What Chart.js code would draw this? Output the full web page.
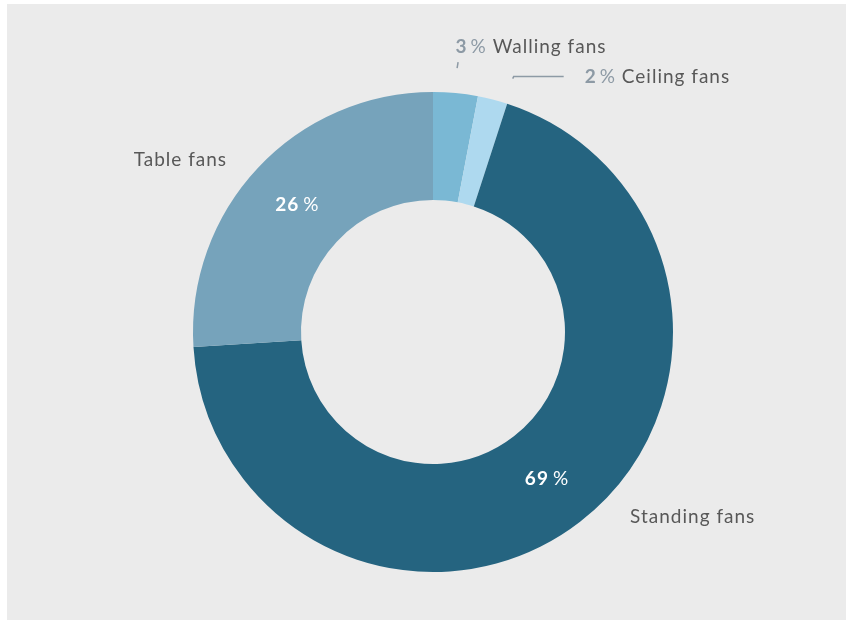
<!DOCTYPE html>
<html>
<head>
  <title>Fan sales share</title>
  <script src="https://cdn.jsdelivr.net/npm/chart.js"></script>
  <style>
    body { margin: 0; background: #ffffff; }
    #bg { position: absolute; left: 7px; top: 4px; width: 839px; height: 616px; background: #ebebeb; }
    #wrap { position: absolute; left: 0; top: 0; width: 846px; height: 622px; }
  </style>
</head>
<body>
  <div id="bg"></div>
  <div id="wrap"><canvas id="fan-chart"></canvas></div>
  <script>
    // chart data
    const categories = ['Walling fans', 'Ceiling fans', 'Standing fans', 'Table fans'];
    const shares = [3, 2, 69, 26];
    const colors = ['#7ab8d4', '#aed9ef', '#256480', '#76a3bb'];

    // label placement relative to the outer edge of each slice
    const labelLayout = [
      { dx: 0, dy: -46, align: 'left', leader: [[1.5, -25], [2.5, -31]] },
      { dx: 92, dy: -23, align: 'left', leader: [[20, -21], [21, -23], [71, -23]] },
      { dx: 50, dy: -5, align: 'left', inside: true },
      { dx: -31, dy: -8, align: 'right', inside: true },
    ];

    const FONT = 'Lato, "Open Sans", sans-serif';

    const sliceLabels = {
      id: 'sliceLabels',
      afterDatasetsDraw(chart) {
        const ctx = chart.ctx;
        const arcs = chart.getDatasetMeta(0).data;
        ctx.save();
        ctx.textBaseline = 'middle';
        ctx.letterSpacing = '1px';
        arcs.forEach((arc, i) => {
          const p = arc.getProps(['x', 'y', 'startAngle', 'endAngle', 'innerRadius', 'outerRadius'], true);
          const mid = (p.startAngle + p.endAngle) / 2;
          const ox = p.x + Math.cos(mid) * p.outerRadius;
          const oy = p.y + Math.sin(mid) * p.outerRadius;
          const lay = labelLayout[i];
          const num = String(shares[i]);

          if (lay.inside) {
            // white percentage in the middle of the ring
            const r = (p.innerRadius + p.outerRadius) / 2;
            const cx = p.x + Math.cos(mid) * r;
            const cy = p.y + Math.sin(mid) * r;
            ctx.fillStyle = '#ffffff';
            ctx.font = 'bold 19px ' + FONT;
            const w1 = ctx.measureText(num).width;
            ctx.font = '19px ' + FONT;
            const w2 = ctx.measureText('%').width;
            const total = w1 + 4 + w2;
            ctx.textAlign = 'left';
            ctx.font = 'bold 19px ' + FONT;
            ctx.fillText(num, cx - total / 2, cy);
            ctx.font = '19px ' + FONT;
            ctx.fillText('%', cx - total / 2 + w1 + 4, cy);

            ctx.fillStyle = '#585858';
            ctx.textAlign = lay.align;
            ctx.font = '19px ' + FONT;
            ctx.fillText(categories[i], ox + lay.dx, oy + lay.dy);
          } else {
            if (lay.leader) {
              ctx.strokeStyle = '#8d9aa5';
              ctx.lineWidth = 1.5;
              ctx.beginPath();
              lay.leader.forEach((pt, k) => {
                if (k === 0) ctx.moveTo(ox + pt[0], oy + pt[1]);
                else ctx.lineTo(ox + pt[0], oy + pt[1]);
              });
              ctx.stroke();
            }
            let x = ox + lay.dx;
            const y = oy + lay.dy;
            ctx.textAlign = 'left';
            ctx.fillStyle = '#8d9aa5';
            ctx.font = 'bold 19px ' + FONT;
            ctx.fillText(num, x, y);
            x += ctx.measureText(num).width + 3;
            ctx.font = '19px ' + FONT;
            ctx.fillText('%', x, y);
            x += ctx.measureText('% ').width;
            ctx.fillStyle = '#585858';
            ctx.fillText(categories[i], x, y);
          }
        });
        ctx.restore();
      }
    };

    new Chart(document.getElementById('fan-chart').getContext('2d'), {
      type: 'doughnut',
      data: {
        labels: categories,
        datasets: [{
          data: shares,
          backgroundColor: colors,
          borderWidth: 0,
        }],
      },
      options: {
        responsive: true,
        maintainAspectRatio: false,
        animation: false,
        cutout: '55%',
        layout: { padding: { left: 193, right: 173, top: 92, bottom: 50 } },
        plugins: {
          legend: { display: false },
          tooltip: { enabled: false },
        },
      },
      plugins: [sliceLabels],
    });
  </script>
</body>
</html>
